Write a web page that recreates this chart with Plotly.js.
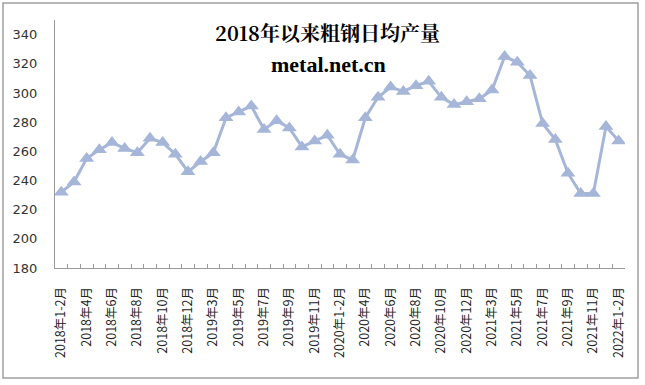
<!DOCTYPE html>
<html>
<head>
<meta charset="utf-8">
<script src="https://cdn.plot.ly/plotly-3.0.1.min.js"></script>
<style>
html,body{margin:0;padding:0;background:#fff;}
#chart{width:645px;height:385px;}
</style>
</head>
<body>
<div id="chart"></div>
<script>
const months = [
  "2018年1-2月","2018年3月","2018年4月","2018年5月","2018年6月","2018年7月","2018年8月","2018年9月","2018年10月","2018年11月","2018年12月",
  "2019年1-2月","2019年3月","2019年4月","2019年5月","2019年6月","2019年7月","2019年8月","2019年9月","2019年10月","2019年11月","2019年12月",
  "2020年1-2月","2020年3月","2020年4月","2020年5月","2020年6月","2020年7月","2020年8月","2020年9月","2020年10月","2020年11月","2020年12月",
  "2021年1-2月","2021年3月","2021年4月","2021年5月","2021年6月","2021年7月","2021年8月","2021年9月","2021年10月","2021年11月","2021年12月",
  "2022年1-2月"
];
const output = [
  232,239,255,261,266,262,259,269,266,258,246,
  253,259,283,287,291,275,281,276,263,267,271,
  258,254,283,297,304,301,305,308,297,292,294,
  296,302,325,321,312,279,268,245,231,231,277,
  267
];
const tickText = months.map((m, i) => (i % 2 === 0 ? m : ""));
const yTicks = [180,200,220,240,260,280,300,320,340];

const trace = {
  x: months,
  y: output,
  type: "scatter",
  mode: "lines+markers",
  line: {color: "#a6b6d9", width: 3},
  marker: {symbol: "triangle-up", size: 13, color: "#a6b6d9"},
  hoverinfo: "x+y"
};

// plot area: x 55..625, y 20..268
const L = 55, R = 625, T = 20, B = 268;
const px = v => (v - L) / (R - L);
const py = v => (B - v) / (B - T);

const layout = {
  width: 645, height: 385,
  margin: {l: L, r: 645 - R, t: T, b: 385 - B, pad: 0},
  paper_bgcolor: "#ffffff",
  plot_bgcolor: "#ffffff",
  showlegend: false,
  xaxis: {
    type: "category",
    tickmode: "array",
    tickvals: months,
    ticktext: tickText,
    tickangle: -90,
    tickson: "boundaries",
    ticks: "inside",
    ticklen: 4,
    tickcolor: "#9a9a9a",
    ticklabelstandoff: 13,
    showline: true,
    linecolor: "#9a9a9a",
    linewidth: 1,
    showgrid: false,
    zeroline: false,
    range: [-0.5, months.length - 0.5],
    tickfont: {family: "Noto Sans CJK SC, DejaVu Sans", size: 12.5, color: "#222"}
  },
  yaxis: {
    range: [180, 350],
    tickmode: "array",
    tickvals: yTicks,
    ticks: "",
    ticklabelstandoff: 14,
    showline: true,
    linecolor: "#9a9a9a",
    linewidth: 1,
    showgrid: false,
    zeroline: false,
    tickfont: {family: "DejaVu Sans", size: 13, color: "#333"}
  },
  annotations: [
    {text: "<b>2018年以来粗钢日均产量</b>", xref: "paper", yref: "paper",
     x: px(327), y: py(33), xanchor: "center", yanchor: "middle", showarrow: false,
     font: {family: "Noto Serif CJK SC, Noto Sans CJK SC, serif", size: 20, color: "#000"}},
    {text: "<b>metal.net.cn</b>", xref: "paper", yref: "paper",
     x: px(328), y: py(65), xanchor: "center", yanchor: "middle", showarrow: false,
     font: {family: "Liberation Serif, serif", size: 22, color: "#000"}}
  ],
  shapes: [
    {type: "rect", xref: "paper", yref: "paper", x0: px(3), x1: px(638), y0: py(378), y1: py(3),
     line: {color: "#a0a0a0", width: 1.5}, fillcolor: "rgba(0,0,0,0)", layer: "below"}
  ]
};

Plotly.newPlot("chart", [trace], layout, {displayModeBar: false, staticPlot: true});
</script>
</body>
</html>
